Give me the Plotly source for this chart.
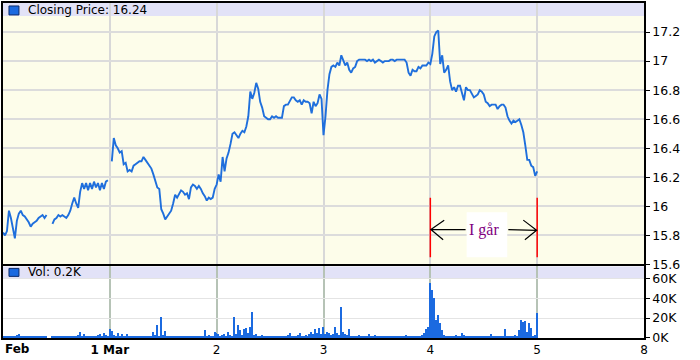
import plotly.graph_objects as go

# ---------------- data ----------------
day_labels = ["Feb", "1 Mar", "2", "3", "4", "5", "8"]
closing_price = 16.24
last_volume_k = 0.2
samples_per_day = 54

price_feb = [15.82, 15.80, 15.83, 15.97, 15.92, 15.85, 15.78, 15.90, 15.95, 15.97,
             15.94, 15.93, 15.91, 15.89, 15.86, 15.88, 15.89, 15.90, 15.92, 15.93,
             15.94, 15.92, 15.94, None, None, 15.88, 15.91, 15.92, 15.94, 15.93,
             15.94, 15.93, 15.92, 15.94, 15.97, 16.02, 16.06, 16.02, 15.99, 16.10,
             16.16, 16.12, 16.16, 16.11, 16.16, 16.12, 16.17, 16.13, 16.16, 16.11,
             16.16, 16.12, 16.17, 16.18]
price_mar1 = [None, 16.31, 16.47, 16.42, 16.40, 16.37, 16.38, 16.29, 16.30, 16.24,
              16.25, 16.24, 16.28, 16.29, 16.30, 16.31, 16.31, 16.34, 16.32, 16.30,
              16.28, 16.26, 16.22, 16.17, 16.13, 16.12, 15.98, 15.95, 15.91, 15.93,
              15.95, 15.97, 16.02, 16.08, 16.06, 16.09, 16.11, 16.10, 16.08, 16.09,
              16.05, 16.13, 16.15, 16.14, 16.12, 16.14, 16.12, 16.09, 16.07, 16.04,
              16.06, 16.05, 16.06, 16.12]
price_mar2 = [16.15, 16.22, 16.17, 16.34, 16.24, 16.33, 16.37, 16.43, 16.50, 16.51,
              16.49, 16.47, 16.50, 16.52, 16.51, 16.55, 16.62, 16.79, 16.74, 16.78,
              16.85, 16.81, 16.72, 16.68, 16.62, 16.61, 16.60, 16.60, 16.62, 16.61,
              16.62, 16.61, 16.61, 16.61, 16.69, 16.70, 16.70, 16.73, 16.75, 16.75,
              16.73, 16.72, 16.73, 16.70, 16.73, 16.72, 16.72, 16.71, 16.64, 16.72,
              16.69, 16.71, 16.77, 16.74]
price_mar3 = [16.49, 16.62, 16.80, 16.91, 16.96, 16.97, 16.96, 16.99, 16.97, 17.04,
              17.01, 16.97, 16.99, 16.94, 16.92, 16.95, 16.96, 17.00, 17.01, 17.01,
              17.01, 17.01, 17.00, 17.01, 17.00, 17.01, 16.99, 17.00, 17.01, 17.00,
              16.99, 17.00, 17.00, 17.00, 17.01, 17.01, 17.00, 17.01, 17.01, 17.01,
              17.01, 17.01, 16.99, 16.92, 16.90, 16.94, 16.93, 16.93, 16.96, 16.95,
              16.97, 16.97, 16.97, 16.99]
price_mar4 = [16.98, 17.05, 17.17, 17.20, 17.21, 16.98, 17.04, 16.92, 16.94, 16.97,
              16.86, 16.80, 16.82, 16.79, 16.83, 16.83, 16.77, 16.73, 16.82, 16.80,
              16.80, 16.77, 16.75, 16.76, 16.77, 16.80, 16.79, 16.77, 16.72, 16.71,
              16.69, 16.70, 16.70, 16.70, 16.67, 16.69, 16.70, 16.70, 16.68, 16.62,
              16.59, 16.57, 16.59, 16.58, 16.59, 16.60, 16.56, 16.51, 16.42, 16.32,
              16.32, 16.28, 16.27, 16.21, 16.24]

# volume in thousands
vol_feb = [2, 1, 2, 1, 2, 1, 1, 3, 4, 1, 1, 2, 1, 2, 1, 1, 2, 1, 1, 2,
           1, 1, 1, 0, 0, 1, 1, 1, 1, 2, 1, 1, 1, 2, 1, 2, 1, 2, 3, 6,
           2, 4, 2, 1, 2, 1, 1, 2, 3, 4, 2, 5, 3, 2]
vol_mar1 = [9, 7, 3, 2, 5, 2, 4, 1, 2, 4, 1, 2, 1, 1, 2, 1, 1, 1, 1, 1,
            2, 1, 6, 3, 13, 2, 21, 3, 7, 2, 1, 1, 2, 1, 1, 1, 2, 1, 1, 2,
            1, 1, 1, 2, 1, 1, 1, 2, 8, 2, 3, 1, 2, 6]
vol_mar2 = [5, 4, 2, 3, 4, 2, 6, 3, 2, 21, 4, 13, 8, 3, 9, 10, 5, 11, 26, 3,
            4, 2, 1, 3, 1, 2, 1, 1, 2, 1, 1, 2, 1, 1, 2, 1, 3, 5, 2, 1,
            2, 3, 5, 2, 1, 3, 2, 4, 6, 4, 9, 5, 10, 4]
vol_mar3 = [11, 4, 6, 5, 3, 4, 11, 5, 3, 31, 6, 4, 3, 9, 2, 1, 2, 1, 3, 1,
            2, 1, 2, 4, 1, 2, 3, 1, 2, 1, 2, 1, 1, 2, 1, 1, 2, 1, 1, 2,
            1, 2, 3, 1, 2, 1, 2, 1, 2, 1, 3, 5, 9, 11]
vol_mar4 = [55, 48, 40, 18, 23, 15, 8, 3, 2, 2, 1, 2, 1, 3, 2, 1, 5, 3, 1, 2,
            1, 1, 2, 1, 1, 2, 1, 2, 1, 1, 2, 4, 2, 1, 1, 2, 1, 2, 9, 2,
            1, 2, 1, 3, 2, 8, 18, 16, 17, 6, 15, 10, 2, 3, 25]

price_ticks = [15.6, 15.8, 16.0, 16.2, 16.4, 16.6, 16.8, 17.0, 17.2]
price_tick_text = ["15.6", "15.8", "16", "16.2", "16.4", "16.6", "16.8", "17", "17.2"]
vol_ticks = [0, 20, 40, 60]
vol_tick_text = ["0K", "20K", "40K", "60K"]

# ------------- build series (time = day index + intraday fraction) -------------
price_days = [price_feb, price_mar1, price_mar2, price_mar3, price_mar4]
vol_days = [vol_feb, vol_mar1, vol_mar2, vol_mar3, vol_mar4]
px_t, px_v = [], []
for d, vals in enumerate(price_days):
    for i, v in enumerate(vals):
        px_t.append(d + i / samples_per_day)
        px_v.append(v)
vt, vv = [], []
for d, vals in enumerate(vol_days):
    for i, v in enumerate(vals):
        vt.append(d + i / samples_per_day)
        vv.append(v)

# ------------- layout helpers (pixel -> paper) -------------
W, H = 700, 360
ML, MR, MT, MB = 1, 56, 1, 22
PW, PH = W - ML - MR, H - MT - MB


def pxx(p):
    return (p - ML) / PW


def pxy(p):
    return (MT + PH - p) / PH


FONT = "DejaVu Sans, Verdana, sans-serif"
LINE_BLUE = "#1f6fdc"

fig = go.Figure()
fig.add_trace(go.Scatter(x=px_t, y=px_v, mode="lines", xaxis="x", yaxis="y",
                         line=dict(color=LINE_BLUE, width=1.9), connectgaps=False,
                         hoverinfo="skip", showlegend=False))
fig.add_trace(go.Bar(x=vt, y=vv, xaxis="x2", yaxis="y2",
                     width=0.7 / samples_per_day,
                     marker=dict(color="#1b6ae0", line=dict(width=0)),
                     hoverinfo="skip", showlegend=False))

shapes = [
    # panel backgrounds and header bands
    dict(type="rect", xref="paper", yref="paper", x0=0, x1=1, y0=pxy(264), y1=1,
         fillcolor="#fdfdea", line=dict(width=0), layer="below"),
    dict(type="rect", xref="paper", yref="paper", x0=0, x1=1, y0=pxy(14), y1=1,
         fillcolor="#e2e2f7", line=dict(width=0), layer="below"),
    dict(type="rect", xref="paper", yref="paper", x0=0, x1=1, y0=pxy(278), y1=pxy(266),
         fillcolor="#e2e2f7", line=dict(width=0), layer="below"),
    # legend icons
    dict(type="rect", xref="paper", yref="paper", x0=pxx(7), x1=pxx(17), y0=pxy(13), y1=pxy(4),
         fillcolor="#1b6ae0", line=dict(color="#0b2b6b", width=1)),
    dict(type="rect", xref="paper", yref="paper", x0=pxx(7), x1=pxx(17), y0=pxy(276), y1=pxy(268),
         fillcolor="#1b6ae0", line=dict(color="#0b2b6b", width=1)),
    # "I går" annotation: white label box
    dict(type="rect", xref="x", yref="y", x0=4.34, x1=4.72, y0=15.65, y1=15.96,
         fillcolor="white", line=dict(width=0), layer="above"),
    # red marker lines at day 4 and day 5
    dict(type="line", xref="x", yref="y", x0=4, x1=4, y0=15.65, y1=16.06,
         line=dict(color="#ff0000", width=1.5)),
    dict(type="line", xref="x", yref="y", x0=5, x1=5, y0=15.65, y1=16.06,
         line=dict(color="#ff0000", width=1.5)),
    # arrows
    dict(type="path", xref="x", yref="y",
         path="M 4.33,15.84 L 4.005,15.84 M 4.13,15.905 L 4.005,15.84 L 4.12,15.77",
         line=dict(color="black", width=1.2)),
    dict(type="path", xref="x", yref="y",
         path="M 4.73,15.84 L 4.995,15.835 M 4.87,15.905 L 4.995,15.835 L 4.885,15.77",
         line=dict(color="black", width=1.2)),
]

annotations = [
    dict(text="Closing Price: %.2f" % closing_price, xref="paper", yref="paper",
         x=pxx(24), y=pxy(8.5), xanchor="left", yanchor="middle", showarrow=False,
         font=dict(family=FONT, size=12, color="black")),
    dict(text="Vol: %.1fK" % last_volume_k, xref="paper", yref="paper",
         x=pxx(24), y=pxy(272), xanchor="left", yanchor="middle", showarrow=False,
         font=dict(family=FONT, size=12, color="black")),
    dict(text="<b>%s</b>" % day_labels[0], xref="paper", yref="paper",
         x=0, y=pxy(349), xanchor="left", yanchor="middle", showarrow=False,
         font=dict(family=FONT, size=12, color="black")),
    dict(text="I går", xref="x", yref="y", x=4.345, y=15.84, xanchor="left",
         yanchor="middle", showarrow=False,
         font=dict(family="Liberation Serif, Times New Roman, serif", size=16, color="#800080")),
]

x_tickvals = [1, 2, 3, 4, 5, 6]
x_ticktext = ["<b>%s</b>" % day_labels[1]] + day_labels[2:]

axis_common = dict(showline=True, mirror=True, linecolor="black", linewidth=1.5, zeroline=False)

fig.update_layout(
    width=W, height=H,
    margin=dict(l=ML, r=MR, t=MT, b=MB, pad=0),
    paper_bgcolor="white", plot_bgcolor="white",
    showlegend=False, bargap=0,
    font=dict(family=FONT, size=12, color="black"),
    xaxis=dict(domain=[0, 1], anchor="y", range=[0, 6], tickvals=x_tickvals,
               showticklabels=False, ticks="", showgrid=True, gridcolor="#d8d8d8",
               gridwidth=1.5, **axis_common),
    xaxis2=dict(domain=[0, 1], anchor="y2", matches="x", range=[0, 6], tickvals=x_tickvals,
                ticktext=x_ticktext, ticks="", ticklen=0, showgrid=True, gridcolor="#b6c3b6",
                gridwidth=1.5, tickfont=dict(family=FONT, size=12, color="black"),
                **axis_common),
    yaxis=dict(domain=[pxy(264), 1], anchor="x", range=[15.6, 17.4], side="right",
               tickvals=price_ticks, ticktext=price_tick_text, ticks="outside", ticklen=4,
               tickcolor="black", tickwidth=1.2, showgrid=True, gridcolor="#dcdcdc", gridwidth=1.5,
               tickfont=dict(family=FONT, size=12.5, color="black"), **axis_common),
    yaxis2=dict(domain=[0, pxy(266)], anchor="x2", range=[0, 72], side="right",
                tickvals=vol_ticks, ticktext=vol_tick_text, ticks="outside", ticklen=4,
                tickcolor="black", tickwidth=1.2, showgrid=True, gridcolor="#e4e4e4", gridwidth=1,
                tickfont=dict(family=FONT, size=12.5, color="black"), **axis_common),
    shapes=shapes,
    annotations=annotations,
)

fig.write_html("out.html")
